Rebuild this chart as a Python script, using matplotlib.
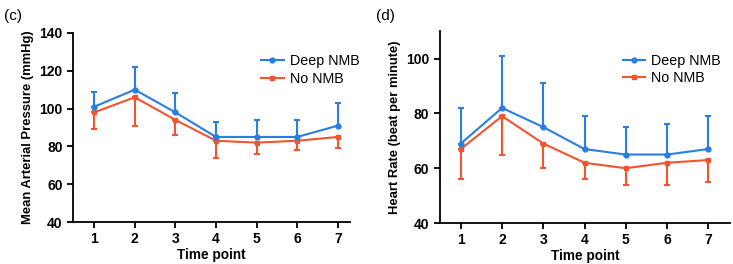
import matplotlib
matplotlib.use("Agg")
import matplotlib.pyplot as plt

plt.rcParams['font.family'] = ['Liberation Sans', 'DejaVu Sans']

time_points = [1, 2, 3, 4, 5, 6, 7]

# (c) mean arterial pressure
map_deep = [101, 110, 98, 85, 85, 85, 91]
map_deep_upper = [109, 122, 108, 93, 94, 94, 103]
map_no = [98, 106, 94, 83, 82, 83, 85]
map_no_lower = [89, 91, 86, 74, 76, 78, 79]

# (d) heart rate
hr_deep = [69, 82, 75, 67, 65, 65, 67]
hr_deep_upper = [82, 101, 91, 79, 75, 76, 79]
hr_no = [67, 79, 69, 62, 60, 62, 63]
hr_no_lower = [56, 65, 60, 56, 54, 54, 55]

blue = '#2a7de1'
red = '#f2542d'

fig = plt.figure(figsize=(7.33, 2.64), dpi=100)
ax1 = fig.add_axes([0.0996, 0.159, 0.378, 0.716])
ax2 = fig.add_axes([0.600, 0.155, 0.396, 0.727])


def draw(ax, deep, deep_up, no, no_low, anchor):
    up = [u - d for u, d in zip(deep_up, deep)]
    low = [n - l for n, l in zip(no, no_low)]
    ax.errorbar(time_points, deep, yerr=[[0] * 7, up], color=blue, marker='o',
                markersize=3.5, lw=1.5, elinewidth=1.5, capsize=2, capthick=1.5,
                label='Deep NMB', zorder=3)
    ax.errorbar(time_points, no, yerr=[low, [0] * 7], color=red, marker='s',
                markersize=3.5, lw=1.5, elinewidth=1.5, capsize=2, capthick=1.5,
                label='No NMB', zorder=2)
    for s in ['top', 'right']:
        ax.spines[s].set_visible(False)
    for s in ['left', 'bottom']:
        ax.spines[s].set_linewidth(1.3)
    ax.set_xticks(time_points)
    ax.tick_params(width=1.3, length=4, labelsize=10)
    for t in ax.get_xticklabels():
        t.set_fontweight('bold')
    ax.set_xlabel('Time point', fontsize=9.8, fontweight='bold', labelpad=1)
    h, l = ax.get_legend_handles_labels()
    h = [x[0] for x in h]
    ax.legend(h, l, loc='upper right', frameon=False, fontsize=10.3,
              handlelength=1.6, handletextpad=0.4, labelspacing=0.25,
              bbox_to_anchor=anchor)


draw(ax1, map_deep, map_deep_upper, map_no, map_no_lower, (1.08, 0.955))
ax1.set_xlim(0.48, 7.3)
ax1.set_ylim(40, 140)
ax1.set_yticks([40, 60, 80, 100, 120, 140])
ax1.set_ylabel('Mean Arterial Pressure (mmHg)', fontsize=9.4, fontweight='bold')
for t in ax1.get_yticklabels():
    t.set_fontweight('bold')

draw(ax2, hr_deep, hr_deep_upper, hr_no, hr_no_lower, (1.013, 0.95))
ax2.set_xlim(0.49, 7.53)
ax2.set_ylim(40, 110)
ax2.set_yticks([40, 60, 80, 100])
ax2.set_ylabel('Heart Rate (beat per minute)', fontsize=9.4, fontweight='bold')
for t in ax2.get_yticklabels():
    t.set_fontweight('bold')

fig.text(0.005, 0.925, '(c)', fontsize=11)
fig.text(0.513, 0.925, '(d)', fontsize=11)

fig.savefig('out.png', dpi=100)
